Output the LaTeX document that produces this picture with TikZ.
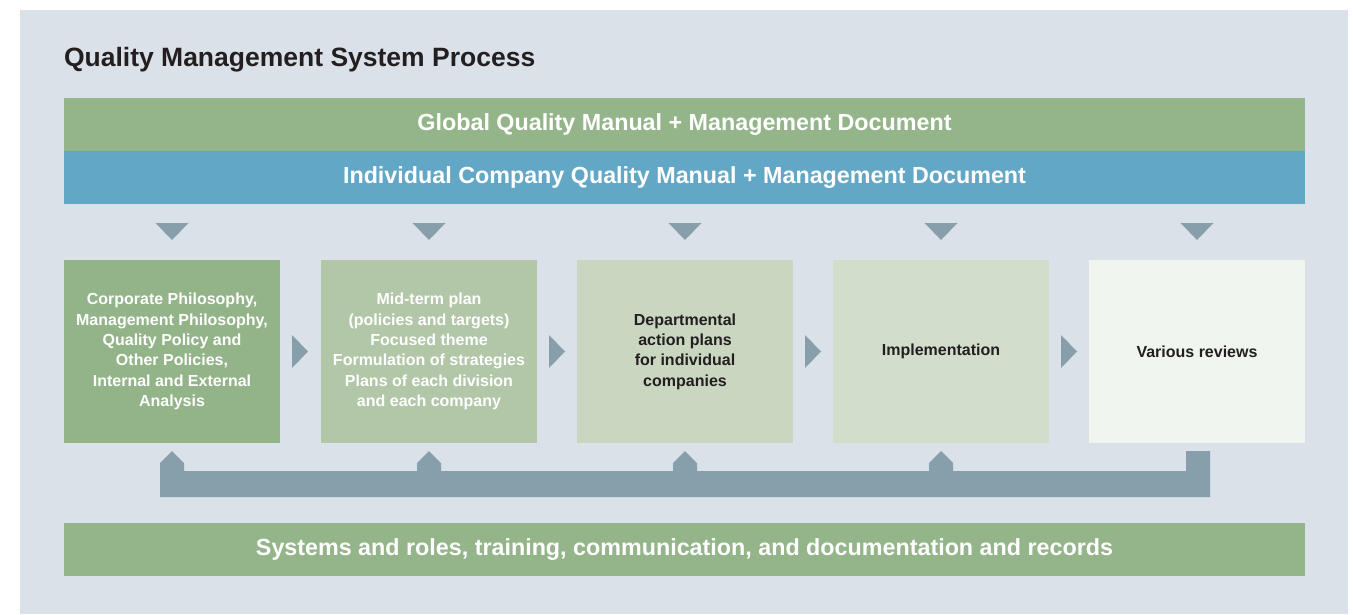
\documentclass[tikz,border=0pt]{standalone}
\usepackage{fontspec}
\setmainfont{Liberation Sans}
\usetikzlibrary{calc}
\definecolor{panel}{HTML}{DAE1E8}
\definecolor{qgreen}{HTML}{94B589}
\definecolor{qblue}{HTML}{62A8C6}
\definecolor{arrowc}{HTML}{879EAB}
\definecolor{boxa}{HTML}{93B488}
\definecolor{boxb}{HTML}{B2C6A8}
\definecolor{boxc}{HTML}{C9D6C0}
\definecolor{boxd}{HTML}{D2DECB}
\definecolor{boxe}{HTML}{F0F5F0}
\definecolor{darktext}{HTML}{231F20}
\begin{document}
\begin{tikzpicture}[x=1pt,y=-1pt,
  every node/.style={inner sep=0pt, outer sep=0pt},
  bar/.style={minimum width=1241pt, minimum height=53pt, anchor=north west, text=white,
    font=\bfseries\fontsize{23.3}{27}\selectfont},
  stage/.style={minimum width=216pt, minimum height=183pt, anchor=north west, align=center,
    font=\bfseries\fontsize{16}{20.3}\selectfont},
  arr/.style={fill=arrowc}]
\useasboundingbox (0,0) rectangle (1353,614);
\fill[white] (0,0) rectangle (1353,614);
\fill[panel] (20,10) rectangle (1348,614);
\node[anchor=base west, text=darktext, font=\bfseries\fontsize{26.5}{30}\selectfont] (title) at (64,66) {Quality Management System Process};
\node[bar, fill=qgreen] (global) at (64,98) {Global Quality Manual + Management Document};
\node[bar, fill=qblue] (indiv) at (64,151) {Individual Company Quality Manual + Management Document};
\node[stage, fill=boxa, text=white] (b1) at (64,260) {Corporate Philosophy,\\Management Philosophy,\\Quality Policy and\\Other Policies,\\Internal and External\\Analysis};
\node[stage, fill=boxb, text=white] (b2) at (321,260) {Mid-term plan\\(policies and targets)\\Focused theme\\Formulation of strategies\\Plans of each division\\and each company};
\node[stage, fill=boxc, text=darktext] (b3) at (577,260) {Departmental\\action plans\\for individual\\companies};
\node[stage, fill=boxd, text=darktext] (b4) at (833,260) {Implementation};
\node[stage, fill=boxe, text=darktext] (b5) at (1089,260) {Various reviews};
\node[bar, fill=qgreen] (sys) at (64,523) {Systems and roles, training, communication, and documentation and records};
% down triangles
\foreach \b in {b1,b2,b3,b4,b5}{
  \fill[arr] ($(\b.north)+(-16.5,-37)$) -- ($(\b.north)+(16.5,-37)$) -- ($(\b.north)+(0,-20)$) -- cycle;
}
% right triangles
\foreach \b in {b1,b2,b3,b4}{
  \fill[arr] ($(\b.east)+(12,-16.5)$) -- ($(\b.east)+(12,16.5)$) -- ($(\b.east)+(28,0)$) -- cycle;
}
% feedback loop
\fill[arr] ($(b1.south)+(-12,54)$) -- ($(b1.south)+(-12,20)$) -- ($(b1.south)+(0,8)$) -- ($(b1.south)+(12,20)$) -- ($(b1.south)+(12,28)$)
  -- ($(b2.south)+(-12,28)$) -- ($(b2.south)+(-12,20)$) -- ($(b2.south)+(0,8)$) -- ($(b2.south)+(12,20)$) -- ($(b2.south)+(12,28)$)
  -- ($(b3.south)+(-12,28)$) -- ($(b3.south)+(-12,20)$) -- ($(b3.south)+(0,8)$) -- ($(b3.south)+(12,20)$) -- ($(b3.south)+(12,28)$)
  -- ($(b4.south)+(-12,28)$) -- ($(b4.south)+(-12,20)$) -- ($(b4.south)+(0,8)$) -- ($(b4.south)+(12,20)$) -- ($(b4.south)+(12,28)$)
  -- ($(b5.south)+(-11,28)$) -- ($(b5.south)+(-11,8)$) -- ($(b5.south)+(13,8)$) -- ($(b5.south)+(13,54)$) -- cycle;
\end{tikzpicture}
\end{document}
